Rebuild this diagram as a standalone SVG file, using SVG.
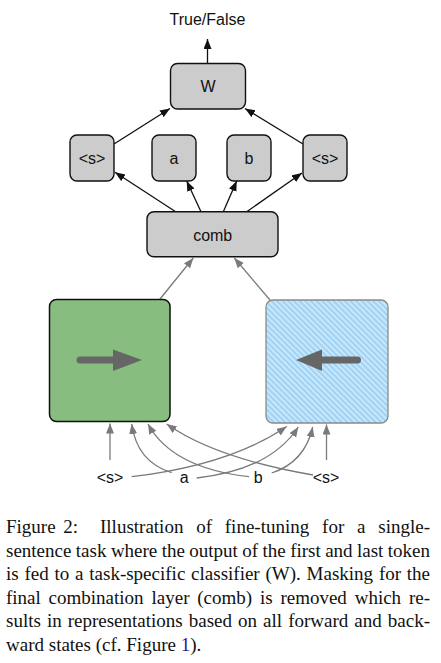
<svg xmlns="http://www.w3.org/2000/svg" width="441" height="663" viewBox="0 0 441 663">
<style>
.lbl{font-family:"Liberation Sans",Arial,sans-serif;font-size:16px;fill:#111;text-anchor:middle}
.box{fill:#cccccc;stroke:#111;stroke-width:1.4}
.blk{fill:none;stroke:#111;stroke-width:1.3;marker-end:url(#ahB)}
.gry{fill:none;stroke:#7a7a7a;stroke-width:1.3;marker-end:url(#ahG)}
.cap{font-family:"Liberation Serif","Times New Roman",serif;font-size:19px;fill:#111}
.big{stroke:#666;stroke-width:7;stroke-linecap:round;fill:none}
</style>
<defs>
<marker id="ahB" markerUnits="userSpaceOnUse" markerWidth="11" markerHeight="9" refX="10" refY="4" orient="auto"><path d="M0,0 L10,4 L0,8 z" fill="#111"/></marker>
<marker id="ahG" markerUnits="userSpaceOnUse" markerWidth="11" markerHeight="9" refX="10" refY="4" orient="auto"><path d="M0,0 L10,4 L0,8 z" fill="#7a7a7a"/></marker>
<pattern id="hatch" patternUnits="userSpaceOnUse" width="4" height="4" patternTransform="rotate(-45)">
<rect width="4" height="4" fill="#9ed3f6"/>
<line x1="1" y1="0" x2="1" y2="4" stroke="#ffffff" stroke-opacity="0.75" stroke-width="1.2"/>
</pattern>
</defs>

<g id="connectors">
<line class="blk" x1="207.5" y1="63" x2="207.5" y2="39"/>
<line class="blk" x1="114" y1="144" x2="170" y2="108.5"/>
<line class="blk" x1="303" y1="144" x2="245" y2="108.5"/>
<line class="blk" x1="175.7" y1="211.7" x2="115" y2="172.3"/>
<line class="blk" x1="201" y1="211.7" x2="186.7" y2="181"/>
<line class="blk" x1="223.3" y1="211.7" x2="236.7" y2="181"/>
<line class="blk" x1="246.7" y1="211.7" x2="302" y2="173"/>
<line class="gry" x1="160" y1="299" x2="193.3" y2="258"/>
<line class="gry" x1="270" y1="300" x2="234.3" y2="258"/>
<line class="gry" x1="110" y1="460" x2="110" y2="423.5"/>
<line class="gry" x1="326.5" y1="460" x2="326.5" y2="424.5"/>
<path class="gry" d="M171.7,472.7 Q137,462 131.7,424"/>
<path class="gry" d="M249,476.7 Q172,468 148,424"/>
<path class="gry" d="M313,475 Q215,458 166.7,424"/>
<path class="gry" d="M131.7,476.7 Q230,465 286.7,426.5"/>
<path class="gry" d="M196.7,478 Q270,470 298.3,427"/>
<path class="gry" d="M271.7,473 Q305,462 312.7,427"/>
</g>

<g id="output"><text class="lbl" x="207.5" y="25">True/False</text></g>
<g id="W"><rect class="box" x="170.5" y="63.5" width="75" height="45.5" rx="7"/><text class="lbl" x="208" y="92">W</text></g>
<g id="s-left"><rect class="box" x="70" y="135" width="44" height="46" rx="7"/><text class="lbl" x="92" y="164">&lt;s&gt;</text></g>
<g id="a-top"><rect class="box" x="152" y="135" width="44" height="46" rx="7"/><text class="lbl" x="174" y="164">a</text></g>
<g id="b-top"><rect class="box" x="227" y="135" width="44" height="46" rx="7"/><text class="lbl" x="249" y="164">b</text></g>
<g id="s-right"><rect class="box" x="303" y="135" width="44" height="46" rx="7"/><text class="lbl" x="325" y="164">&lt;s&gt;</text></g>
<g id="comb"><rect class="box" x="147" y="211.7" width="131" height="45" rx="7"/><text class="lbl" x="212.7" y="240.5">comb</text></g>

<g id="forward">
<rect x="49.5" y="299.5" width="120.5" height="122" rx="7" fill="#88bd80" stroke="#111" stroke-width="1.5"/>
<line class="big" x1="80" y1="360" x2="115" y2="360"/>
<polygon points="113,349.5 142,360 113,371" fill="#666"/>
</g>
<g id="backward">
<rect x="266" y="300" width="122" height="123" rx="7" fill="url(#hatch)" stroke="#8a8a8a" stroke-width="1.3"/>
<line class="big" x1="319" y1="360" x2="357.5" y2="360"/>
<polygon points="296,360 322,349.5 322,371" fill="#666"/>
</g>

<g id="inputs">
<text class="lbl" x="110" y="483">&lt;s&gt;</text>
<text class="lbl" x="184.3" y="483">a</text>
<text class="lbl" x="258.3" y="483">b</text>
<text class="lbl" x="326" y="483">&lt;s&gt;</text>
</g>

<g id="caption">
<text class="cap" y="533"><tspan x="6">Figure</tspan><tspan x="63.3">2:</tspan><tspan x="100">Illustration</tspan><tspan x="196.2">of</tspan><tspan x="224.8">fine-tuning</tspan><tspan x="322.1">for</tspan><tspan x="357">a</tspan><tspan x="378.3">single-</tspan></text>
<text class="cap" y="556.5"><tspan x="6">sentence</tspan><tspan x="75.8">task</tspan><tspan x="110.9">where</tspan><tspan x="161.7">the</tspan><tspan x="189.3">output</tspan><tspan x="242.3">of</tspan><tspan x="262.5">the</tspan><tspan x="290.2">first</tspan><tspan x="325.2">and</tspan><tspan x="357">last</tspan><tspan x="387.8">token</tspan></text>
<text class="cap" y="580"><tspan x="6">is</tspan><tspan x="24.5">fed</tspan><tspan x="54.5">to</tspan><tspan x="75">a</tspan><tspan x="89.3">task-specific</tspan><tspan x="191.1">classifier</tspan><tspan x="265.5">(W).</tspan><tspan x="306.6">Masking</tspan><tspan x="378.9">for</tspan><tspan x="406.8">the</tspan></text>
<text class="cap" y="603.5"><tspan x="6">final</tspan><tspan x="48.6">combination</tspan><tspan x="151.5">layer</tspan><tspan x="197.2">(comb)</tspan><tspan x="259.9">is</tspan><tspan x="280.4">removed</tspan><tspan x="354.7">which</tspan><tspan x="408.9">re-</tspan></text>
<text class="cap" y="627"><tspan x="6">sults</tspan><tspan x="46.9">in</tspan><tspan x="67.7">representations</tspan><tspan x="188.8">based</tspan><tspan x="238.1">on</tspan><tspan x="263.1">all</tspan><tspan x="288.2">forward</tspan><tspan x="354.3">and</tspan><tspan x="387.8">back-</tspan></text>
<text class="cap" x="6" y="650.5">ward states (cf. Figure <tspan fill="#22228a">1</tspan>).</text>
</g>
</svg>
